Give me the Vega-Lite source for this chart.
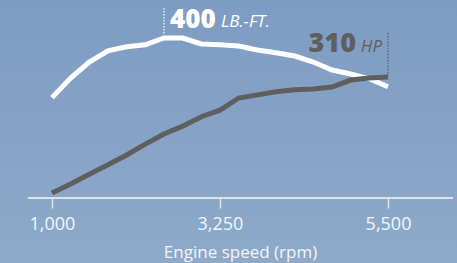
{
  "$schema": "https://vega.github.io/schema/vega-lite/v6.json",
  "width": 457,
  "height": 263,
  "autosize": {"type": "none"},
  "padding": 0,
  "background": "#86a2c6",
  "config": {
    "view": {"stroke": null, "fill": {"gradient": "linear", "x1": 0, "y1": 0, "x2": 0, "y2": 1, "stops": [{"offset": 0, "color": "#7e9bc3"}, {"offset": 1, "color": "#8eaac9"}]}},
    "font": "Open Sans"
  },
  "datasets": {
    "curves": [
      {"rpm": 1000, "torque": 251, "hp": 13},
      {"rpm": 1250, "torque": 300, "hp": 36},
      {"rpm": 1500, "torque": 340, "hp": 61},
      {"rpm": 1750, "torque": 368, "hp": 85},
      {"rpm": 2000, "torque": 378, "hp": 110},
      {"rpm": 2250, "torque": 383, "hp": 138},
      {"rpm": 2500, "torque": 400, "hp": 164},
      {"rpm": 2750, "torque": 400, "hp": 184},
      {"rpm": 3000, "torque": 385, "hp": 208},
      {"rpm": 3250, "torque": 383, "hp": 225},
      {"rpm": 3500, "torque": 380, "hp": 256},
      {"rpm": 3750, "torque": 370, "hp": 264},
      {"rpm": 4000, "torque": 363, "hp": 272},
      {"rpm": 4250, "torque": 355, "hp": 277},
      {"rpm": 4500, "torque": 340, "hp": 279},
      {"rpm": 4750, "torque": 320, "hp": 284},
      {"rpm": 5000, "torque": 310, "hp": 302},
      {"rpm": 5250, "torque": 298, "hp": 307},
      {"rpm": 5500, "torque": 278, "hp": 310}
    ],
    "baseline": [{"from": 679, "to": 6370, "hp": 0}],
    "torquePeak": [{"rpm": 2500, "torque": 400, "top": 475, "bottom": 408, "value": "400", "unit": "LB.-FT."}],
    "hpPeak": [{"rpm": 5500, "hp": 310, "top": 423, "bottom": 313, "value": "310", "unit": "HP"}]
  },
  "encoding": {
    "x": {
      "field": "rpm", "type": "quantitative",
      "scale": {"domain": [304, 6424], "nice": false, "zero": false},
      "axis": {
        "values": [1000, 3250, 5500], "format": ",d", "grid": false, "domain": false, "offset": -65,
        "title": "Engine speed (rpm)", "titleX": 240,
        "tickColor": "#dce4ef", "tickWidth": 1.5, "tickSize": 10,
        "labelColor": "#f2f5f9", "labelFontSize": 18, "labelPadding": 7, "labelFont": "Open Sans",
        "titleColor": "#f2f5f9", "titleFontSize": 17, "titleFontWeight": "normal", "titlePadding": 11, "titleFont": "Open Sans"
      }
    }
  },
  "layer": [
    {
      "encoding": {"y": {"field": "torque", "type": "quantitative", "scale": {"domain": [-162.5, 495], "nice": false, "zero": false}, "axis": null}},
      "layer": [
        {"data": {"name": "curves"}, "mark": {"type": "line", "color": "#ffffff", "strokeWidth": 5, "strokeJoin": "miter"}},
        {"data": {"name": "torquePeak"}, "mark": {"type": "rule", "color": "#ffffff", "strokeWidth": 1.2, "strokeDash": [1.5, 1.5]}, "encoding": {"y": {"field": "top", "type": "quantitative"}, "y2": {"field": "bottom"}}},
        {"data": {"name": "torquePeak"}, "mark": {"type": "text", "color": "#ffffff", "font": "Open Sans", "fontSize": 26, "fontWeight": 800, "align": "left", "baseline": "alphabetic", "dx": 6, "dy": -10}, "encoding": {"text": {"field": "value"}}},
        {"data": {"name": "torquePeak"}, "mark": {"type": "text", "color": "#ffffff", "font": "Open Sans", "fontSize": 17, "fontStyle": "italic", "align": "left", "baseline": "alphabetic", "dx": 57, "dy": -11}, "encoding": {"text": {"field": "unit"}}}
      ]
    },
    {
      "encoding": {"y": {"field": "hp", "type": "quantitative", "scale": {"domain": [-166.5, 507], "nice": false, "zero": false}, "axis": null}},
      "layer": [
        {"data": {"name": "baseline"}, "mark": {"type": "rule", "color": "#dce4ef", "strokeWidth": 2}, "encoding": {"x": {"field": "from", "type": "quantitative"}, "x2": {"field": "to"}}},
        {"data": {"name": "curves"}, "mark": {"type": "line", "color": "#5f5f5f", "strokeWidth": 5, "strokeJoin": "miter"}},
        {"data": {"name": "hpPeak"}, "mark": {"type": "rule", "color": "#5f5f5f", "strokeWidth": 1.2, "strokeDash": [1.5, 1.5]}, "encoding": {"y": {"field": "top", "type": "quantitative"}, "y2": {"field": "bottom"}}},
        {"data": {"name": "hpPeak"}, "mark": {"type": "text", "color": "#5f5f5f", "font": "Open Sans", "fontSize": 27, "fontWeight": 800, "align": "right", "baseline": "alphabetic", "dx": -32, "dy": -25}, "encoding": {"text": {"field": "value"}}},
        {"data": {"name": "hpPeak"}, "mark": {"type": "text", "color": "#5f5f5f", "font": "Open Sans", "fontSize": 17, "fontStyle": "italic", "align": "right", "baseline": "alphabetic", "dx": -6, "dy": -25}, "encoding": {"text": {"field": "unit"}}}
      ]
    }
  ],
  "resolve": {"scale": {"y": "independent"}}
}
